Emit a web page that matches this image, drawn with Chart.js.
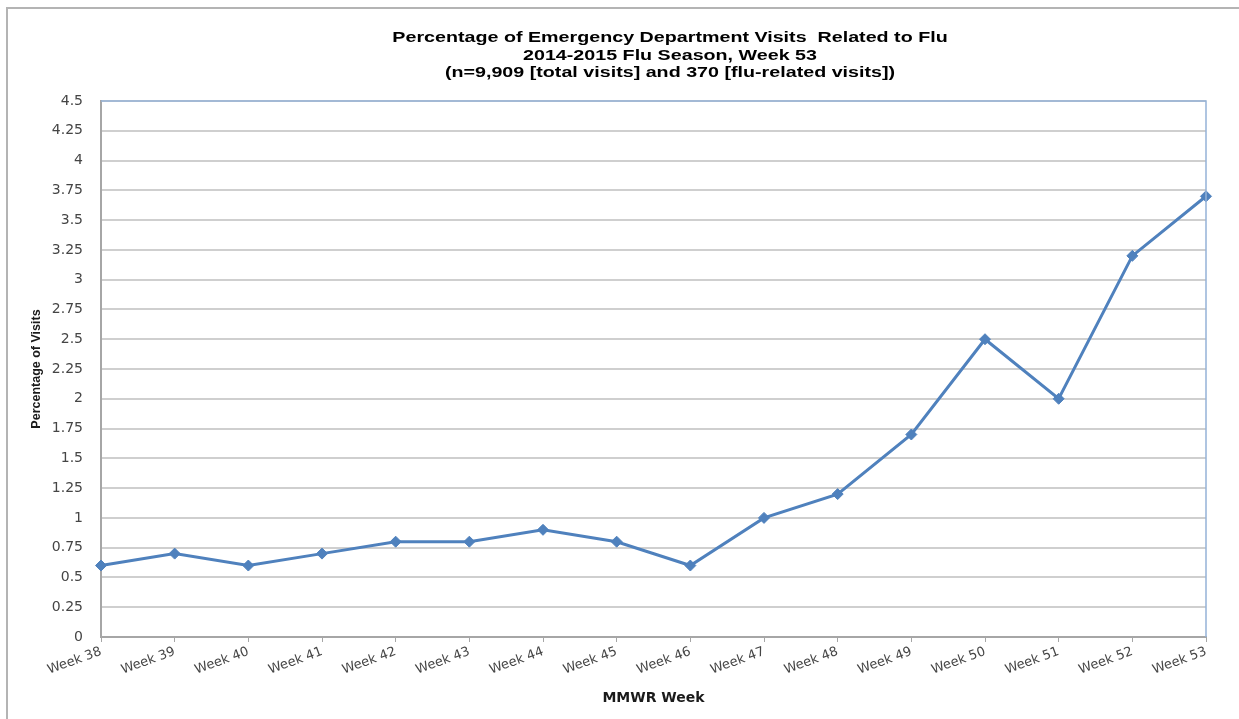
<!DOCTYPE html>
<html>
<head>
<meta charset="utf-8">
<script src="https://cdn.jsdelivr.net/npm/chart.js@4"></script>
<style>
  html, body { margin: 0; padding: 0; background: #fff; overflow: hidden; }
  #wrap { width: 1239px; height: 719px; position: relative; }
</style>
</head>
<body>
<div id="wrap"><canvas id="flu"></canvas></div>
<script>
// ED visits related to flu, 2014-2015 season
var weeks = ['Week 38', 'Week 39', 'Week 40', 'Week 41', 'Week 42', 'Week 43', 'Week 44', 'Week 45',
             'Week 46', 'Week 47', 'Week 48', 'Week 49', 'Week 50', 'Week 51', 'Week 52', 'Week 53'];
var percentVisits = [0.6, 0.7, 0.6, 0.7, 0.8, 0.8, 0.9, 0.8, 0.6, 1.0, 1.2, 1.7, 2.5, 2.0, 3.2, 3.7];
var titleLines = [
  'Percentage of Emergency Department Visits  Related to Flu',
  '2014-2015 Flu Season, Week 53',
  '(n=9,909 [total visits] and 370 [flu-related visits])'
];
var yTitle = 'Percentage of Visits';
var xTitle = 'MMWR Week';

var LINE_COLOR = '#4F81BD';
var GRID_COLOR = '#cfcfcf';
var AXIS_COLOR = '#a6a6a6';
var TICK_COLOR = '#454545';
var TICK_FONT = '"DejaVu Sans", Verdana, sans-serif';

// outer frame, blue top/right plot border, and the 3-line title
var decorPlugin = {
  id: 'decor',
  beforeDraw: function (chart) {
    var ctx = chart.ctx;
    ctx.save();
    ctx.strokeStyle = '#b4b4b4';
    ctx.lineWidth = 2;
    ctx.beginPath();
    ctx.moveTo(7, 730);
    ctx.lineTo(7, 8);
    ctx.lineTo(1260, 8);
    ctx.stroke();
    ctx.restore();
  },
  afterDraw: function (chart) {
    var ctx = chart.ctx;
    var a = chart.chartArea;
    ctx.save();
    ctx.strokeStyle = '#95b3d7';
    ctx.lineWidth = 1.5;
    ctx.beginPath();
    ctx.moveTo(a.left, a.top);
    ctx.lineTo(a.right, a.top);
    ctx.lineTo(a.right, a.bottom);
    ctx.stroke();
    ctx.restore();

    // title text is a little stretched sideways in the source
    titleLines.forEach(function (t, i) {
      ctx.save();
      ctx.fillStyle = '#000';
      ctx.font = 'bold 15.5px "Liberation Sans", Arial, sans-serif';
      ctx.textAlign = 'center';
      ctx.textBaseline = 'middle';
      ctx.translate(670, 38 + i * 17.6);
      ctx.scale(1.27, 1);
      ctx.fillText(t, 0, 0);
      ctx.restore();
    });
  }
};

new Chart(document.getElementById('flu'), {
  type: 'line',
  data: {
    labels: weeks,
    datasets: [{
      data: percentVisits,
      borderColor: LINE_COLOR,
      backgroundColor: LINE_COLOR,
      borderWidth: 3,
      tension: 0,
      pointStyle: 'rectRot',
      pointRadius: 5.5,
      pointBorderWidth: 1,
      clip: false
    }]
  },
  options: {
    animation: false,
    responsive: true,
    maintainAspectRatio: false,
    layout: { padding: { top: 101, right: 33, left: 0, bottom: 0 } },
    plugins: {
      legend: { display: false },
      title: { display: false },
      tooltip: { enabled: false }
    },
    scales: {
      x: {
        offset: false,
        grid: { display: true, drawOnChartArea: false, drawTicks: true, tickLength: 5, color: AXIS_COLOR },
        border: { color: AXIS_COLOR, width: 2 },
        ticks: {
          autoSkip: false, minRotation: 20, maxRotation: 20, padding: 2,
          color: TICK_COLOR, font: { family: TICK_FONT, size: 13 }
        },
        title: {
          display: true, text: xTitle, color: '#1a1a1a',
          font: { family: TICK_FONT, size: 14, weight: 'bold' },
          padding: { top: 0, bottom: 12 }
        },
        afterFit: function (s) { s.height = 82; }
      },
      y: {
        min: 0,
        max: 4.5,
        grid: { color: GRID_COLOR, lineWidth: 2, drawTicks: false },
        border: { color: AXIS_COLOR, width: 2 },
        ticks: {
          stepSize: 0.25, padding: 18, color: TICK_COLOR,
          font: { family: TICK_FONT, size: 14 },
          callback: function (v) { return String(+v.toFixed(2)); }
        },
        title: {
          display: true, text: yTitle, color: '#1a1a1a',
          font: { family: '"Liberation Sans Narrow", "Arial Narrow", sans-serif', size: 12.5, weight: 'bold' },
          padding: { top: 29, bottom: 0 }
        },
        afterFit: function (s) { s.width = 101; }
      }
    }
  },
  plugins: [decorPlugin]
});
</script>
</body>
</html>
